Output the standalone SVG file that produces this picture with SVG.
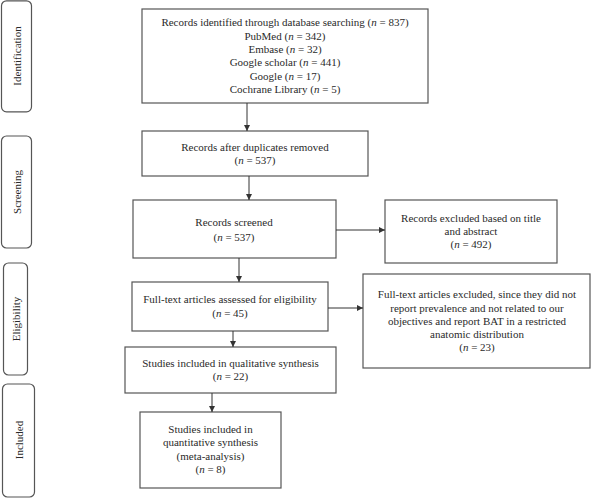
<svg xmlns="http://www.w3.org/2000/svg" width="591" height="498" viewBox="0 0 591 498">
<style>
.box{fill:#fff;stroke:#555;stroke-width:1.2}
.side{fill:#fff;stroke:#555;stroke-width:1.2}
text{font-family:"Liberation Serif","Times New Roman",serif;font-size:11px;fill:#2a2a2a;text-anchor:middle}
.i{font-style:italic}
.c{stroke:#333;stroke-width:1;fill:none;marker-end:url(#ah)}
</style>
<defs>
<marker id="ah" viewBox="0 0 6 6" refX="6" refY="3" markerWidth="6" markerHeight="6" markerUnits="userSpaceOnUse" orient="auto">
<path d="M0,0 L6,3 L0,6 Z" fill="#333"/>
</marker>
</defs>
<rect width="591" height="498" fill="#fff"/>
<g id="stage-identification"><rect class="side" x="1.5" y="0.8" width="30" height="111" rx="5"/><text transform="translate(21,56) rotate(-90)">Identification</text></g>
<g id="stage-screening"><rect class="side" x="1.5" y="136" width="30" height="112" rx="5"/><text transform="translate(21,192) rotate(-90)">Screening</text></g>
<g id="stage-eligibility"><rect class="side" x="3.5" y="263" width="24" height="112" rx="5"/><text transform="translate(19.5,319) rotate(-90)">Eligibility</text></g>
<g id="stage-included"><rect class="side" x="2.5" y="384" width="32" height="113" rx="5"/><text transform="translate(22.5,440) rotate(-90)">Included</text></g>

<g id="n1"><rect class="box" x="142" y="9" width="286" height="94"/>
<text x="285" y="26">Records identified through database searching (<tspan class="i">n</tspan> = 837)</text>
<text x="285" y="40">PubMed (<tspan class="i">n</tspan> = 342)</text>
<text x="285" y="53">Embase (<tspan class="i">n</tspan> = 32)</text>
<text x="285" y="66">Google scholar (<tspan class="i">n</tspan> = 441)</text>
<text x="285" y="80">Google (<tspan class="i">n</tspan> = 17)</text>
<text x="285" y="93">Cochrane Library (<tspan class="i">n</tspan> = 5)</text></g>

<g id="n2"><rect class="box" x="142" y="131" width="226" height="45"/>
<text x="255" y="151">Records after duplicates removed</text>
<text x="255" y="164">(<tspan class="i">n</tspan> = 537)</text></g>

<g id="n3"><rect class="box" x="133" y="200" width="203" height="58"/>
<text x="234" y="226">Records screened</text>
<text x="234" y="241">(<tspan class="i">n</tspan> = 537)</text></g>

<g id="n4"><rect class="box" x="385" y="200" width="172" height="63"/>
<text x="471" y="222">Records excluded based on title</text>
<text x="471" y="235">and abstract</text>
<text x="471" y="248">(<tspan class="i">n</tspan> = 492)</text></g>

<g id="n5"><rect class="box" x="132" y="282" width="196" height="49"/>
<text x="230" y="303">Full-text articles assessed for eligibility</text>
<text x="230" y="317">(<tspan class="i">n</tspan> = 45)</text></g>

<g id="n6"><rect class="box" x="363" y="274" width="227" height="94"/>
<text x="477" y="298">Full-text articles excluded, since they did not</text>
<text x="477" y="312">report prevalence and not related to our</text>
<text x="477" y="325">objectives and report BAT in a restricted</text>
<text x="477" y="338">anatomic distribution</text>
<text x="477" y="351">(<tspan class="i">n</tspan> = 23)</text></g>

<g id="n7"><rect class="box" x="125" y="347" width="211" height="46"/>
<text x="230.5" y="367">Studies included in qualitative synthesis</text>
<text x="230.5" y="380">(<tspan class="i">n</tspan> = 22)</text></g>

<g id="n8"><rect class="box" x="140" y="412" width="141" height="76"/>
<text x="210.5" y="433">Studies included in</text>
<text x="210.5" y="446">quantitative synthesis</text>
<text x="210.5" y="460">(meta-analysis)</text>
<text x="210.5" y="473">(<tspan class="i">n</tspan> = 8)</text></g>

<g id="connectors">
<path class="c" d="M247,103 V131"/>
<path class="c" d="M249,176 V200"/>
<path class="c" d="M336,230 H385"/>
<path class="c" d="M239,258 V282"/>
<path class="c" d="M328,308 H363"/>
<path class="c" d="M233,331 V347"/>
<path class="c" d="M212,393 V412"/>
</g>
</svg>
